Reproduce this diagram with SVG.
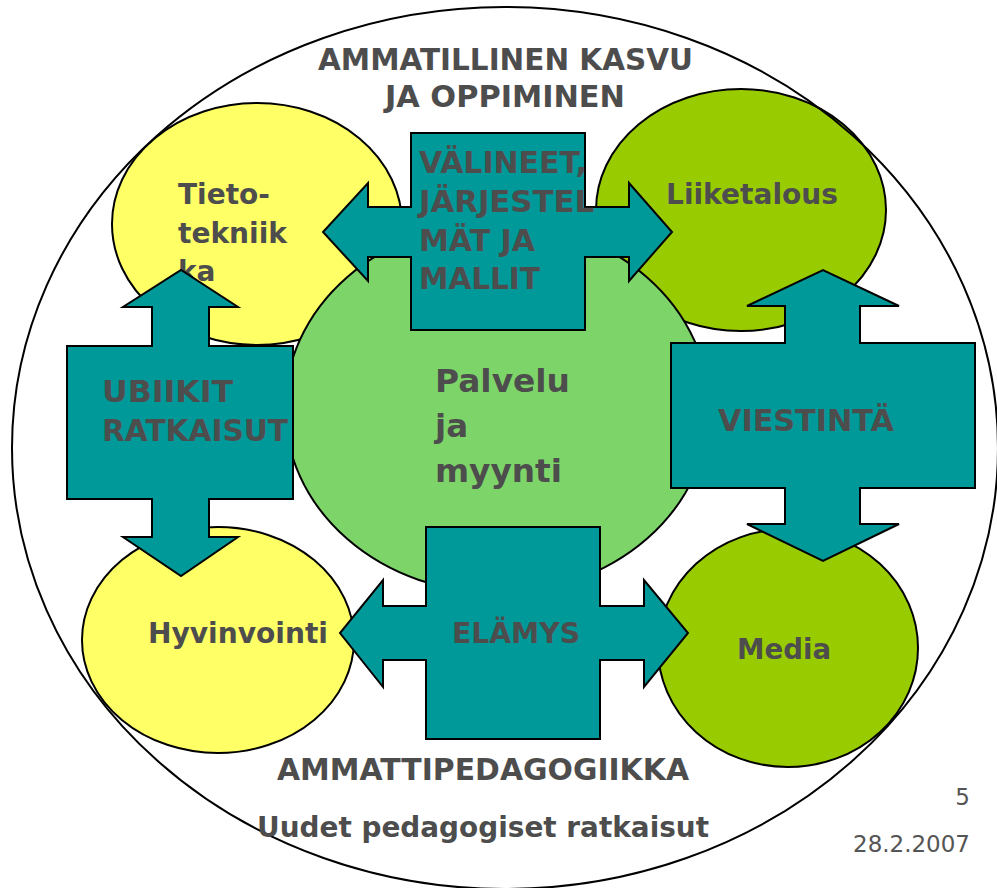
<svg xmlns="http://www.w3.org/2000/svg" width="997" height="888" viewBox="0 0 997 888">
<style>
.bg{fill:#FFFFFF}
.ell{stroke:#000;stroke-width:2}
.yel{fill:#FFFF66}
.oli{fill:#99CC00}
.lgr{fill:#7DD56A}
.frame{fill:none;stroke:#000;stroke-width:2}
.cross{fill:#009999;stroke:#000;stroke-width:2;stroke-linejoin:miter}
.t{font-family:"DejaVu Sans","Verdana",sans-serif;font-weight:bold;fill:#4D4D4D}
.s28{font-size:28px}
.s29{font-size:29.5px}
.s32{font-size:32.5px}
.foot{font-family:"DejaVu Sans","Verdana",sans-serif;font-size:23px;fill:#555555}
</style>
<rect class="bg" x="0" y="0" width="997" height="888"/>

<g id="tietotekniikka">
<ellipse class="ell yel" cx="257" cy="224" rx="145" ry="121"/>
<text class="t s28" x="178" y="204">Tieto-</text>
<text class="t s28" x="178" y="243" textLength="109" lengthAdjust="spacingAndGlyphs">tekniik</text>
<text class="t s28" x="178" y="281">ka</text>
</g>

<g id="liiketalous">
<ellipse class="ell oli" cx="741" cy="210" rx="145" ry="121"/>
<text class="t s28" x="666" y="204" textLength="172" lengthAdjust="spacingAndGlyphs">Liiketalous</text>
</g>

<g id="hyvinvointi">
<ellipse class="ell yel" cx="218" cy="640" rx="136" ry="113"/>
<text class="t s28" x="148" y="643" textLength="180" lengthAdjust="spacingAndGlyphs">Hyvinvointi</text>
</g>

<g id="media">
<ellipse class="ell oli" cx="788" cy="648" rx="130" ry="119"/>
<text class="t s28" x="737" y="659" textLength="94" lengthAdjust="spacingAndGlyphs">Media</text>
</g>

<g id="palvelu">
<ellipse class="ell lgr" cx="497" cy="408" rx="212" ry="185"/>
<text class="t s32" x="435" y="392" textLength="135" lengthAdjust="spacingAndGlyphs">Palvelu</text>
<text class="t s32" x="435" y="437">ja</text>
<text class="t s32" x="435" y="482" textLength="127" lengthAdjust="spacingAndGlyphs">myynti</text>
</g>

<g id="ammatillinen-kasvu">
<ellipse class="frame" cx="505" cy="448" rx="493" ry="441"/>
<text class="t s29" x="318" y="70" textLength="375" lengthAdjust="spacingAndGlyphs">AMMATILLINEN KASVU</text>
<text class="t s29" x="385" y="107" textLength="240" lengthAdjust="spacingAndGlyphs">JA OPPIMINEN</text>
<text class="t s29" x="277" y="780" textLength="412" lengthAdjust="spacingAndGlyphs">AMMATTIPEDAGOGIIKKA</text>
<text class="t s28" x="257" y="837" textLength="452" lengthAdjust="spacingAndGlyphs">Uudet pedagogiset ratkaisut</text>
</g>

<g id="connectors">
<g id="valineet">
<polygon class="cross" points="411,133 585,133 585,207 629,207 629,183 672,232 629,281 629,257 585,257 585,330 411,330 411,257 368,257 368,281 323,232 368,183 368,207 411,207"/>
<text class="t s29" x="419" y="173" textLength="168" lengthAdjust="spacingAndGlyphs">VÄLINEET,</text>
<text class="t s29" x="419" y="212" textLength="175" lengthAdjust="spacingAndGlyphs">JÄRJESTEL</text>
<text class="t s29" x="419" y="251" textLength="116" lengthAdjust="spacingAndGlyphs">MÄT JA</text>
<text class="t s29" x="419" y="289" textLength="121" lengthAdjust="spacingAndGlyphs">MALLIT</text>
</g>
<g id="ubiikit">
<polygon class="cross" points="67,346 152,346 152,307 123,307 181,270 238,307 209,307 209,346 293,346 293,499 209,499 209,537 238,537 181,576 123,537 152,537 152,499 67,499"/>
<text class="t s29" x="102" y="402" textLength="131" lengthAdjust="spacingAndGlyphs">UBIIKIT</text>
<text class="t s29" x="102" y="441" textLength="186" lengthAdjust="spacingAndGlyphs">RATKAISUT</text>
</g>
<g id="viestinta">
<polygon class="cross" points="671,343 785,343 785,306 747,306 823,270 899,306 860,306 860,343 975,343 975,488 860,488 860,524 899,524 823,561 747,524 785,524 785,488 671,488"/>
<text class="t s29" x="718" y="431" textLength="176" lengthAdjust="spacingAndGlyphs">VIESTINTÄ</text>
</g>
<g id="elamys">
<polygon class="cross" points="426,527 600,527 600,606 644,606 644,580 688,633 644,687 644,660 600,660 600,739 426,739 426,660 383,660 383,687 340,633 383,580 383,606 426,606"/>
<text class="t s28" x="452" y="643" textLength="128" lengthAdjust="spacingAndGlyphs">ELÄMYS</text>
</g>
</g>

<g id="footer">
<text class="foot" x="970" y="805" text-anchor="end">5</text>
<text class="foot" x="970" y="852" text-anchor="end" textLength="117" lengthAdjust="spacingAndGlyphs">28.2.2007</text>
</g>
</svg>
